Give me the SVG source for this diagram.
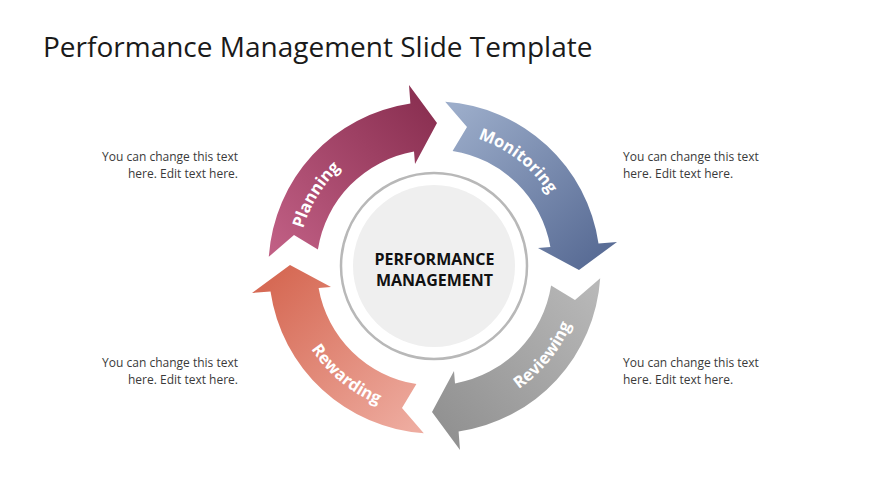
<svg xmlns="http://www.w3.org/2000/svg" xmlns:xlink="http://www.w3.org/1999/xlink" width="870" height="489" viewBox="0 0 870 489">
<style>
.title{font-family:"Open Sans","Liberation Sans",sans-serif;font-size:28px;fill:#1a1a1a}
.side{font-family:"Open Sans","Liberation Sans",sans-serif;font-size:12px;fill:#3a3a3a}
.lbl{font-family:"Open Sans","Liberation Sans",sans-serif;font-size:16.5px;font-weight:bold;fill:#ffffff}
.ctr{font-family:"Open Sans","Liberation Sans",sans-serif;font-size:16px;font-weight:bold;fill:#111111}
</style>
<defs>
<path id="arrow" d="M445.2,101.8 A166,166 0 0 1 598.5,243.4 L617,242 L579,270 L538,248 L550.4,247 A118,118 0 0 0 452.6,150.9 L467,127 Z"/>
<linearGradient id="gMon" gradientUnits="userSpaceOnUse" x1="450" y1="110" x2="590" y2="260">
<stop offset="0" stop-color="#9cadca"/><stop offset="1" stop-color="#5a6d96"/></linearGradient>
<linearGradient id="gPla" gradientUnits="userSpaceOnUse" x1="450" y1="110" x2="590" y2="260">
<stop offset="0" stop-color="#c05f84"/><stop offset="1" stop-color="#8c3153"/></linearGradient>
<linearGradient id="gRev" gradientUnits="userSpaceOnUse" x1="450" y1="110" x2="590" y2="260">
<stop offset="0" stop-color="#b8b8b8"/><stop offset="1" stop-color="#929292"/></linearGradient>
<linearGradient id="gRew" gradientUnits="userSpaceOnUse" x1="450" y1="110" x2="590" y2="260">
<stop offset="0" stop-color="#eeaca0"/><stop offset="1" stop-color="#d66a55"/></linearGradient>
<path id="tpMon" d="M383.6,141.4 A136,136 0 0 1 569.2,286.4"/>
<path id="tpPla" d="M317.0,337.6 A136,136 0 0 1 444.0,131.8"/>
<path id="tpRev" d="M411.4,413.7 A148,148 0 0 0 572.7,214.5"/>
<path id="tpRew" d="M288.5,243.1 A148,148 0 0 0 486.3,406.1"/>
</defs>
<rect width="870" height="489" fill="#ffffff"/>
<text class="title" x="43" y="57">Performance Management Slide Template</text>

<g id="connectors"></g>

<g id="center">
<circle cx="434" cy="266" r="93" fill="#ffffff" stroke="#b8b8b8" stroke-width="2.5"/>
<circle cx="434" cy="266" r="81" fill="#efefef"/>
<text class="ctr" x="434.5" y="265" text-anchor="middle">PERFORMANCE</text>
<text class="ctr" x="434.5" y="286" text-anchor="middle">MANAGEMENT</text>
</g>

<g id="planning">
<use xlink:href="#arrow" href="#arrow" fill="url(#gPla)" transform="rotate(-90 434.5 267.5)"/>
<text class="lbl"><textPath xlink:href="#tpPla" href="#tpPla" startOffset="50%" text-anchor="middle">Planning</textPath></text>
</g>
<g id="monitoring">
<use xlink:href="#arrow" href="#arrow" fill="url(#gMon)"/>
<text class="lbl"><textPath xlink:href="#tpMon" href="#tpMon" startOffset="50%" text-anchor="middle">Monitoring</textPath></text>
</g>
<g id="reviewing">
<use xlink:href="#arrow" href="#arrow" fill="url(#gRev)" transform="rotate(90 434.5 267.5)"/>
<text class="lbl"><textPath xlink:href="#tpRev" href="#tpRev" startOffset="50%" text-anchor="middle">Reviewing</textPath></text>
</g>
<g id="rewarding">
<use xlink:href="#arrow" href="#arrow" fill="url(#gRew)" transform="rotate(180 434.5 267.5)"/>
<text class="lbl"><textPath xlink:href="#tpRew" href="#tpRew" startOffset="50%" text-anchor="middle">Rewarding</textPath></text>
</g>

<g id="note-tl">
<text class="side" x="238" y="161" text-anchor="end">You can change this text</text>
<text class="side" x="238" y="178" text-anchor="end">here. Edit text here.</text>
</g>
<g id="note-tr">
<text class="side" x="623" y="161">You can change this text</text>
<text class="side" x="623" y="178">here. Edit text here.</text>
</g>
<g id="note-bl">
<text class="side" x="238" y="367" text-anchor="end">You can change this text</text>
<text class="side" x="238" y="384" text-anchor="end">here. Edit text here.</text>
</g>
<g id="note-br">
<text class="side" x="623" y="367">You can change this text</text>
<text class="side" x="623" y="384">here. Edit text here.</text>
</g>
</svg>
